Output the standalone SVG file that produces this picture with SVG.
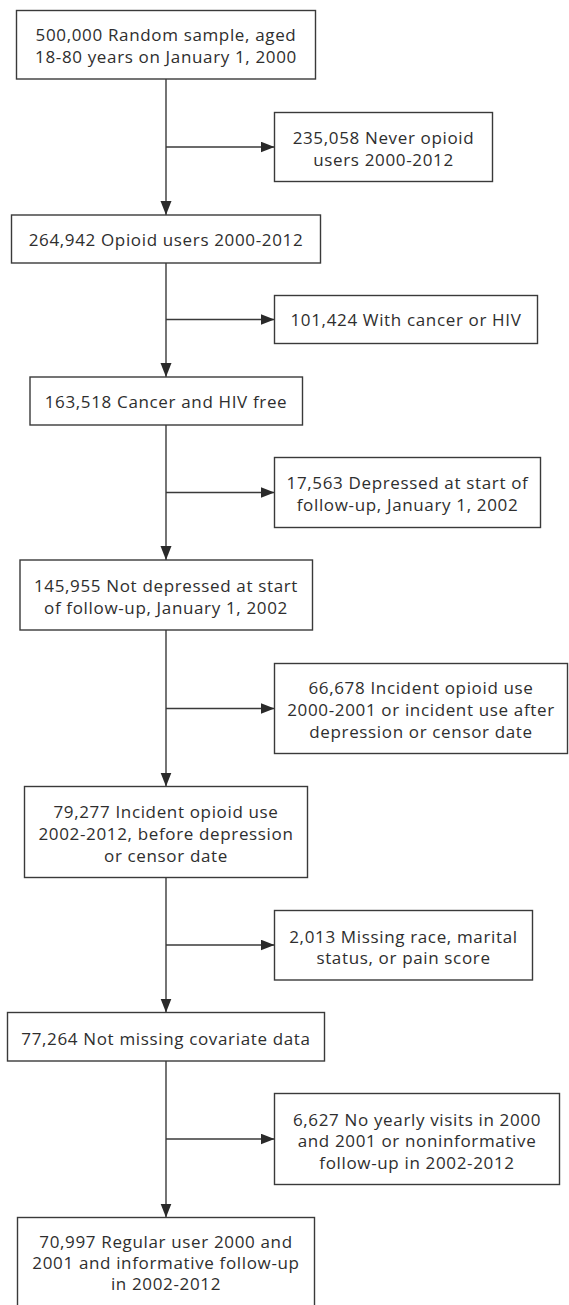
<svg xmlns="http://www.w3.org/2000/svg" width="569" height="1305" viewBox="0 0 569 1305">
<style>
.box{fill:#fff;stroke:#3a3a3a;stroke-width:1.4}
.t{font-family:"Open Sans","Noto Sans","Liberation Sans",sans-serif;font-size:17px;letter-spacing:0.65px;fill:#2e2e2e;text-anchor:middle}
.ln{stroke:#3a3a3a;stroke-width:1.4;fill:none}
</style>
<defs>
<marker id="ah" markerUnits="userSpaceOnUse" markerWidth="15" markerHeight="12" refX="14" refY="5.5" orient="auto">
<path d="M0,0 L14,5.5 L0,11 z" fill="#2a2a2a"/>
</marker>
</defs>
<rect width="569" height="1305" fill="#fff"/>
<g id="connectors">
<line class="ln" x1="166" y1="79" x2="166" y2="215" marker-end="url(#ah)"/>
<line class="ln" x1="166" y1="147" x2="274.5" y2="147" marker-end="url(#ah)"/>
<line class="ln" x1="166" y1="263" x2="166" y2="377" marker-end="url(#ah)"/>
<line class="ln" x1="166" y1="319.5" x2="274.5" y2="319.5" marker-end="url(#ah)"/>
<line class="ln" x1="166" y1="425" x2="166" y2="560" marker-end="url(#ah)"/>
<line class="ln" x1="166" y1="492.5" x2="274.5" y2="492.5" marker-end="url(#ah)"/>
<line class="ln" x1="166" y1="630" x2="166" y2="786.5" marker-end="url(#ah)"/>
<line class="ln" x1="166" y1="708.5" x2="274.5" y2="708.5" marker-end="url(#ah)"/>
<line class="ln" x1="166" y1="877.5" x2="166" y2="1012.5" marker-end="url(#ah)"/>
<line class="ln" x1="166" y1="945" x2="274.5" y2="945" marker-end="url(#ah)"/>
<line class="ln" x1="166" y1="1061" x2="166" y2="1217.5" marker-end="url(#ah)"/>
<line class="ln" x1="166" y1="1139" x2="274.5" y2="1139" marker-end="url(#ah)"/>
</g>
<g id="n1"><rect class="box" x="16.5" y="10.5" width="299" height="68.5"/>
<text class="t" x="166" y="41">500,000 Random sample, aged</text>
<text class="t" x="166" y="63">18-80 years on January 1, 2000</text></g>
<g id="n2"><rect class="box" x="274.5" y="112.5" width="218" height="69"/>
<text class="t" x="383.5" y="144">235,058 Never opioid</text>
<text class="t" x="383.5" y="166">users 2000-2012</text></g>
<g id="n3"><rect class="box" x="11.5" y="215" width="309" height="48"/>
<text class="t" x="166" y="246">264,942 Opioid users 2000-2012</text></g>
<g id="n4"><rect class="box" x="274.5" y="295.5" width="263" height="48"/>
<text class="t" x="406" y="326">101,424 With cancer or HIV</text></g>
<g id="n5"><rect class="box" x="30" y="377" width="272.5" height="48"/>
<text class="t" x="166" y="408">163,518 Cancer and HIV free</text></g>
<g id="n6"><rect class="box" x="274.5" y="457.5" width="266" height="70"/>
<text class="t" x="407.5" y="489">17,563 Depressed at start of</text>
<text class="t" x="407.5" y="511">follow-up, January 1, 2002</text></g>
<g id="n7"><rect class="box" x="20" y="560" width="292.5" height="70"/>
<text class="t" x="166" y="592">145,955 Not depressed at start</text>
<text class="t" x="166" y="614">of follow-up, January 1, 2002</text></g>
<g id="n8"><rect class="box" x="274.5" y="663.5" width="293" height="90"/>
<text class="t" x="421" y="694">66,678 Incident opioid use</text>
<text class="t" x="421" y="716">2000-2001 or incident use after</text>
<text class="t" x="421" y="737.5">depression or censor date</text></g>
<g id="n9"><rect class="box" x="24.5" y="786.5" width="283" height="91"/>
<text class="t" x="166" y="818">79,277 Incident opioid use</text>
<text class="t" x="166" y="840">2002-2012, before depression</text>
<text class="t" x="166" y="861.5">or censor date</text></g>
<g id="n10"><rect class="box" x="274.5" y="910.5" width="258" height="69.5"/>
<text class="t" x="403.5" y="943">2,013 Missing race, marital</text>
<text class="t" x="403.5" y="964">status, or pain score</text></g>
<g id="n11"><rect class="box" x="7.5" y="1012.5" width="317" height="48.5"/>
<text class="t" x="166" y="1044.5">77,264 Not missing covariate data</text></g>
<g id="n12"><rect class="box" x="274.5" y="1093.5" width="285" height="91"/>
<text class="t" x="417" y="1125.5">6,627 No yearly visits in 2000</text>
<text class="t" x="417" y="1147">and 2001 or noninformative</text>
<text class="t" x="417" y="1168.5">follow-up in 2002-2012</text></g>
<g id="n13"><rect class="box" x="17.5" y="1217.5" width="297" height="100"/>
<text class="t" x="166" y="1247.5">70,997 Regular user 2000 and</text>
<text class="t" x="166" y="1269">2001 and informative follow-up</text>
<text class="t" x="166" y="1290">in 2002-2012</text></g>
</svg>
